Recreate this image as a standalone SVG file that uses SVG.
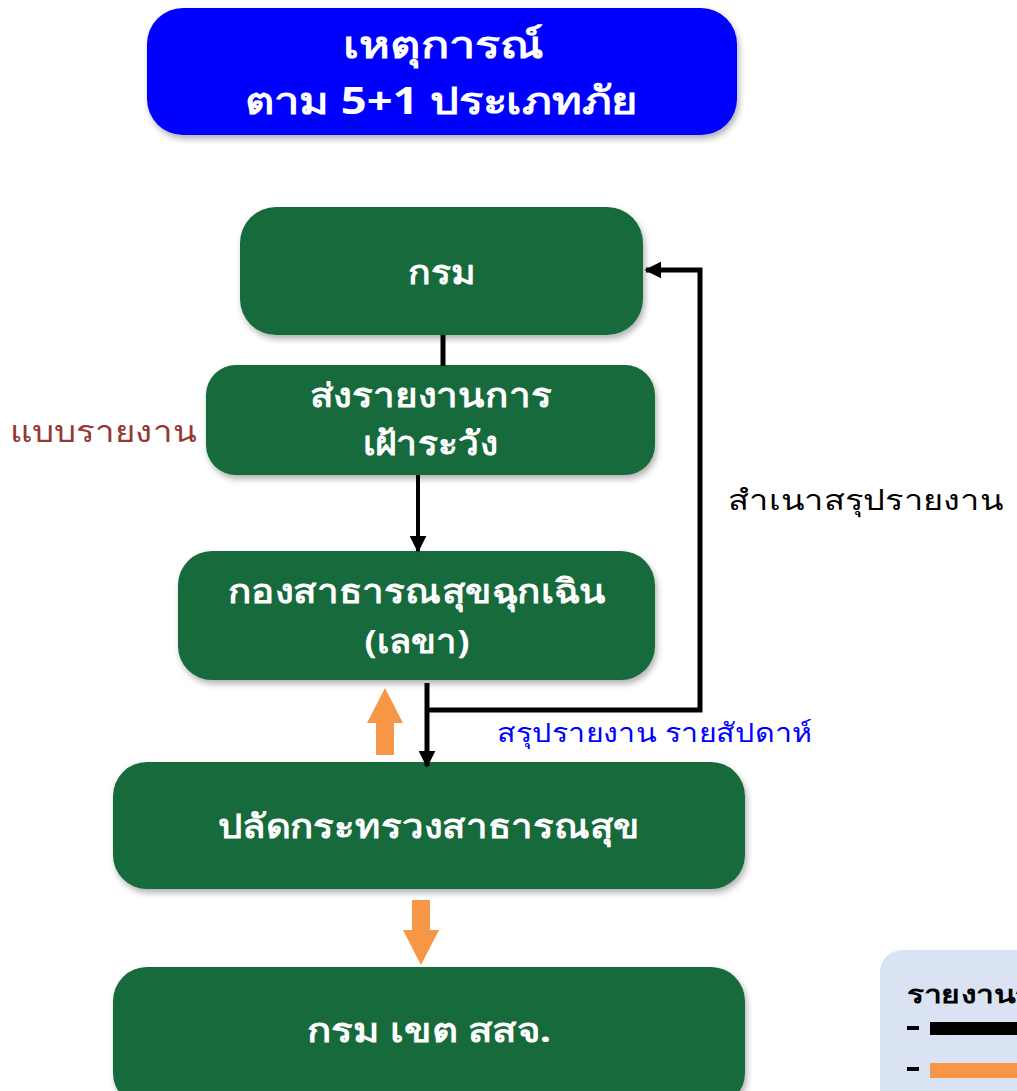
<svg xmlns="http://www.w3.org/2000/svg" width="1017" height="1091" viewBox="0 0 1017 1091">
<style>
text{font-family:"Noto Sans","DejaVu Sans",sans-serif}
.nb{fill:#146B3B;filter:url(#sh)}
.nt{fill:#fff;font-weight:bold;font-size:33px;text-anchor:middle}
.ln{stroke:#000;stroke-width:5;fill:none}
.or{fill:#F79646}
</style>
<defs>
<filter id="sh" x="-10%" y="-10%" width="120%" height="130%">
<feDropShadow dx="2" dy="4" stdDeviation="3" flood-color="#000" flood-opacity="0.3"/>
</filter>
<marker id="ah" viewBox="0 0 10 10" refX="9" refY="5" markerWidth="17" markerHeight="17" orient="auto" markerUnits="userSpaceOnUse">
<path d="M0,0 L10,5 L0,10 z" fill="#000"/>
</marker>
</defs>
<g id="n-top">
<rect x="147" y="8" width="590" height="127" rx="36" fill="#0000FF" filter="url(#sh)"/>
<text class="nt" x="443" y="58" style="font-size:38px" textLength="200" lengthAdjust="spacingAndGlyphs">เหตุการณ์</text>
<text class="nt" x="441" y="114" style="font-size:38px" textLength="393" lengthAdjust="spacingAndGlyphs">ตาม 5+1 ประเภทภัย</text>
</g>
<g id="n-krom">
<rect class="nb" x="240" y="207" width="403" height="128" rx="36"/>
<text class="nt" x="442" y="284" textLength="68" lengthAdjust="spacingAndGlyphs">กรม</text>
</g>
<g id="n-send">
<rect class="nb" x="206" y="365" width="449" height="110" rx="30"/>
<text class="nt" x="431" y="407" textLength="242" lengthAdjust="spacingAndGlyphs">ส่งรายงานการ</text>
<text class="nt" x="430" y="455" textLength="135" lengthAdjust="spacingAndGlyphs">เฝ้าระวัง</text>
</g>
<g id="n-kong">
<rect class="nb" x="178" y="551" width="477" height="129" rx="34"/>
<text class="nt" x="417" y="603" textLength="378" lengthAdjust="spacingAndGlyphs">กองสาธารณสุขฉุกเฉิน</text>
<text class="nt" x="417" y="653" textLength="105" lengthAdjust="spacingAndGlyphs">(เลขา)</text>
</g>
<g id="n-palad">
<rect class="nb" x="113" y="762" width="632" height="127" rx="34"/>
<text class="nt" x="429" y="838" textLength="422" lengthAdjust="spacingAndGlyphs">ปลัดกระทรวงสาธารณสุข</text>
</g>
<g id="n-khet">
<rect class="nb" x="113" y="967" width="632" height="140" rx="34"/>
<text class="nt" x="429" y="1042" textLength="244" lengthAdjust="spacingAndGlyphs">กรม เขต สสจ.</text>
</g>
<g id="connectors">
<line class="ln" x1="443" y1="335" x2="443" y2="366"/>
<line class="ln" x1="418" y1="475" x2="418" y2="551" marker-end="url(#ah)" style="stroke-width:4"/>
<line class="ln" x1="427" y1="683" x2="427" y2="766" marker-end="url(#ah)"/>
<polyline class="ln" points="427,710 700,710 700,270 646,270" marker-end="url(#ah)"/>
<polygon class="or" points="385,688 403,723 394,723 394,755 376,755 376,723 367,723"/>
<polygon class="or" points="421,965 439,930 430,930 430,900 412,900 412,930 403,930"/>
</g>
<g id="labels">
<text x="10" y="442" style="font-size:30px" fill="#953735" textLength="187" lengthAdjust="spacingAndGlyphs">แบบรายงาน</text>
<text x="728" y="510" style="font-size:28px" fill="#000" textLength="275" lengthAdjust="spacingAndGlyphs">สำเนาสรุปรายงาน</text>
<text x="497" y="742" style="font-size:26px" fill="#0000FF" textLength="315" lengthAdjust="spacingAndGlyphs">สรุปรายงาน รายสัปดาห์</text>
</g>
<g id="legend">
<rect x="880" y="950" width="180" height="160" rx="22" fill="#DAE3F3"/>
<text x="907" y="1003" style="font-size:25px;font-weight:bold" fill="#000" textLength="125" lengthAdjust="spacingAndGlyphs">รายงานร</text>
<rect x="907" y="1026" width="12" height="4" fill="#000"/>
<rect x="930" y="1022" width="90" height="13" fill="#000"/>
<rect x="907" y="1067" width="12" height="4" fill="#000"/>
<rect x="930" y="1063" width="90" height="15" fill="#F79646"/>
</g>
</svg>
